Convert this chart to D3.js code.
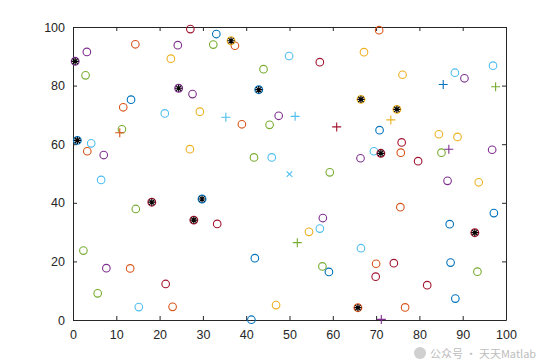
<!DOCTYPE html>
<html>
<head>
<meta charset="utf-8">
<script src="https://cdn.jsdelivr.net/npm/d3@7"></script>
<style>
  body { margin: 0; background: #fff; }
  .tick text { font-family: "Liberation Sans", Arial, sans-serif; font-size: 12.5px; fill: #262626; }
</style>
</head>
<body>
<div id="chart"></div>
<script>
// data, [x, y]
var blueCircles = [[33.1,97.6],[13.4,75.2],[70.8,64.8],[42.0,21.1],[59.1,16.4],[41.2,0.1],[97.2,36.5],[87.0,32.7],[87.2,19.6],[88.3,7.3]];
var orangeCircles = [[14.4,94.1],[11.6,72.6],[37.4,93.6],[70.7,98.9],[3.3,57.6],[39.0,66.8],[75.7,57.1],[75.6,38.5],[13.2,17.6],[23.0,4.5],[70.0,19.2],[76.7,4.3]];
var yellowCircles = [[22.6,89.2],[29.3,71.1],[67.2,91.4],[76.1,83.7],[27.0,58.3],[84.5,63.4],[88.8,62.5],[93.7,47.0],[54.5,30.1],[46.9,5.1]];
var purpleCircles = [[24.2,93.8],[3.2,91.5],[27.6,77.1],[47.5,69.7],[90.4,82.5],[7.1,56.3],[66.4,55.2],[96.8,58.1],[86.5,47.5],[57.7,34.8],[7.7,17.7]];
var greenCircles = [[32.4,94.0],[2.9,83.5],[44.0,85.6],[45.4,66.6],[11.3,65.1],[85.1,57.1],[14.5,37.9],[41.8,55.5],[59.3,50.4],[2.4,23.7],[5.7,9.1],[57.6,18.3],[93.4,16.5]];
var lightBlueCircles = [[49.9,90.1],[21.2,70.5],[97.0,86.8],[88.2,84.4],[4.2,60.3],[6.5,47.8],[45.9,55.5],[69.5,57.6],[57.0,31.2],[66.5,24.5],[15.2,4.4]];
var darkRedCircles = [[27.1,99.3],[57.0,88.0],[75.9,60.6],[79.7,54.2],[33.3,32.8],[21.4,12.3],[74.1,19.4],[69.9,14.8],[81.8,11.9]];

// circles with a black star on top: [x, y, colour index]
var starPoints = [[0.5,88.3,3],[24.4,79.1,3],[36.5,95.3,2],[42.9,78.6,0],[66.5,75.3,2],[74.8,71.9,2],[1.0,61.3,0],[18.2,40.2,6],[29.8,41.3,0],[27.9,34.1,6],[71.1,56.9,6],[92.8,29.8,6],[65.8,4.2,1]];
// plus markers: [x, y, colour index]
var plusPoints = [[10.8,63.9,1],[35.3,69.2,5],[51.3,69.5,5],[60.9,65.9,6],[73.4,68.3,2],[85.5,80.4,0],[97.6,79.6,4],[86.8,58.3,3],[51.8,26.4,4],[71.2,0.2,3]];
// x markers
var crossPoints = [[50.0,49.8,5]];

var xTicks = [0, 10, 20, 30, 40, 50, 60, 70, 80, 90, 100];
var yTicks = [0, 20, 40, 60, 80, 100];

// matlab default colour order
var palette = ["#0072BD", "#D95319", "#EDB120", "#7E2F8E", "#77AC30", "#4DBEEE", "#A2142F"];
var circleSets = [blueCircles, orangeCircles, yellowCircles, purpleCircles, greenCircles, lightBlueCircles, darkRedCircles];

var svgWidth = 560, svgHeight = 361;
var margin = { top: 27, right: 54, bottom: 41, left: 73 };
var width = svgWidth - margin.left - margin.right;
var height = svgHeight - margin.top - margin.bottom;

var svg = d3.select("#chart").append("svg")
  .attr("width", svgWidth)
  .attr("height", svgHeight);

svg.append("rect").attr("width", svgWidth).attr("height", svgHeight).attr("fill", "#fff");

var chartGroup = svg.append("g")
  .attr("transform", `translate(${margin.left}, ${margin.top})`);

var x = d3.scaleLinear().domain([0, 100]).range([0, width]);
var y = d3.scaleLinear().domain([0, 100]).range([height, 0]);

// axes, ticks point inwards like matlab
var tickLen = 4;
chartGroup.append("g")
  .attr("transform", `translate(0, ${height})`)
  .call(d3.axisBottom(x).tickValues(xTicks).tickSizeInner(-tickLen).tickSizeOuter(0).tickPadding(10));
chartGroup.append("g")
  .call(d3.axisLeft(y).tickValues(yTicks).tickSizeInner(-tickLen).tickSizeOuter(0).tickPadding(8));
chartGroup.append("g")
  .call(d3.axisTop(x).tickValues(xTicks).tickSizeInner(-tickLen).tickSizeOuter(0).tickFormat(""));
chartGroup.append("g")
  .attr("transform", `translate(${width}, 0)`)
  .call(d3.axisRight(y).tickValues(yTicks).tickSizeInner(-tickLen).tickSizeOuter(0).tickFormat(""));

chartGroup.selectAll(".domain, .tick line").attr("stroke", "#262626");

var r = 3.8;
var marks = chartGroup.append("g");

// plain circles
circleSets.forEach(function(set, i) {
  marks.selectAll(null)
    .data(set)
    .enter()
    .append("circle")
    .attr("cx", d => x(d[0]))
    .attr("cy", d => y(d[1]))
    .attr("r", r)
    .attr("fill", "none")
    .attr("stroke", palette[i])
    .attr("stroke-width", 1.1);
});

// circles with a black asterisk
var stars = marks.selectAll(".star")
  .data(starPoints)
  .enter()
  .append("g")
  .attr("transform", d => `translate(${x(d[0])}, ${y(d[1])})`);
stars.append("circle")
  .attr("r", r)
  .attr("fill", "none")
  .attr("stroke", d => palette[d[2]])
  .attr("stroke-width", 1.3);
var s = 3.6, sd = 2.6;
stars.append("path")
  .attr("d", `M${-s},0H${s}M0,${-s}V${s}M${-sd},${-sd}L${sd},${sd}M${-sd},${sd}L${sd},${-sd}`)
  .attr("stroke", "#000")
  .attr("stroke-width", 1.2);

// plus markers
marks.selectAll(".plus")
  .data(plusPoints)
  .enter()
  .append("path")
  .attr("d", d => {
    var px = x(d[0]), py = y(d[1]), h = 4.5;
    return `M${px - h},${py}H${px + h}M${px},${py - h}V${py + h}`;
  })
  .attr("stroke", d => palette[d[2]])
  .attr("stroke-width", 1.1);

// x markers
marks.selectAll(".cross")
  .data(crossPoints)
  .enter()
  .append("path")
  .attr("d", d => {
    var px = x(d[0]), py = y(d[1]), h = 2.8;
    return `M${px - h},${py - h}L${px + h},${py + h}M${px - h},${py + h}L${px + h},${py - h}`;
  })
  .attr("stroke", d => palette[d[2]])
  .attr("stroke-width", 1.1);

// watermark, kept just below the tick labels
var wm = svg.append("g").attr("opacity", 0.55);
wm.append("circle").attr("cx", 420).attr("cy", 353).attr("r", 6).attr("fill", "#aaa");
wm.append("text")
  .attr("x", 430)
  .attr("y", 358)
  .attr("font-family", "'Noto Sans CJK SC', sans-serif")
  .attr("font-size", 11)
  .attr("fill", "#888")
  .text("公众号 · 天天Matlab");
</script>
</body>
</html>
